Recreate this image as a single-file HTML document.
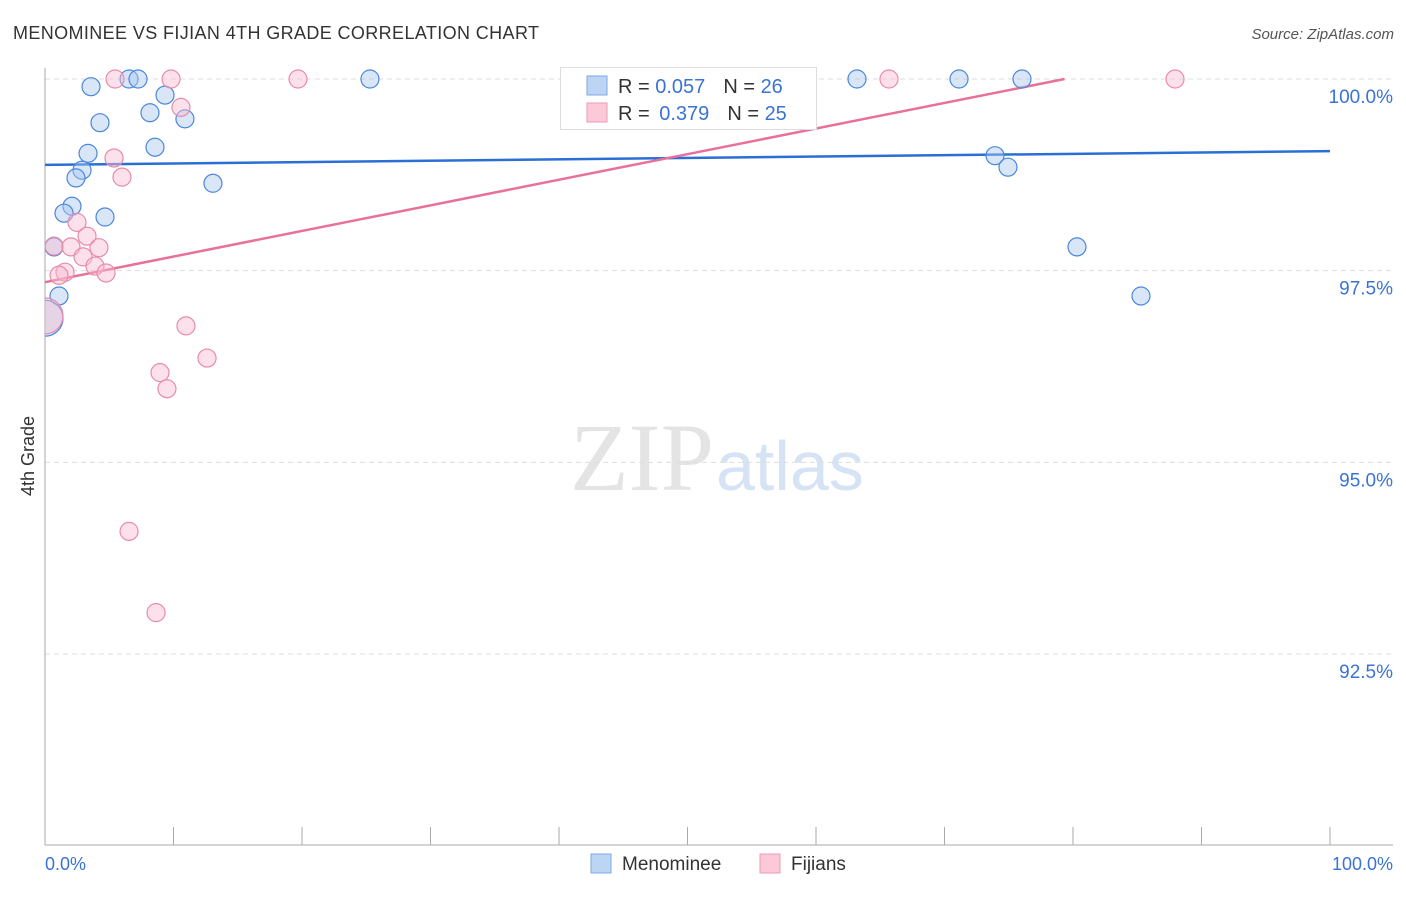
<!DOCTYPE html>
<html><head><meta charset="utf-8"><style>
body{margin:0;background:#fff;font-family:"Liberation Sans",sans-serif}
</style></head><body>
<svg id="chart" width="1406" height="892" xmlns="http://www.w3.org/2000/svg">
<defs><clipPath id="plotclip"><rect x="45" y="0" width="1361" height="845"/></clipPath></defs>
<text x="13" y="39" font-size="18" textLength="526" fill="#333">MENOMINEE VS FIJIAN 4TH GRADE CORRELATION CHART</text>
<text x="1394" y="39" font-size="15" font-style="italic" fill="#555" text-anchor="end">Source: ZipAtlas.com</text>
<text x="714" y="490" font-size="96" font-family="Liberation Serif,serif" fill="#e4e4e4" text-anchor="end">ZIP</text>
<text x="716" y="490" font-size="70" fill="#d6e3f5">atlas</text>
<g id="grid"></g><g id="axes"></g><g id="lines"></g><g id="points" clip-path="url(#plotclip)"></g>
<text transform="translate(34,456) rotate(-90)" font-size="18" fill="#333" text-anchor="middle">4th Grade</text>
<text x="45" y="870" font-size="18" fill="#3a73d4">0.0%</text>
<text x="1393" y="870" font-size="18" fill="#3a73d4" text-anchor="end">100.0%</text>
<g>
<rect x="560.5" y="67.5" width="256" height="62" fill="#fff" stroke="#ddd"/>
<rect x="587" y="76" width="20" height="19" fill="#bcd5f5" stroke="#7ea9e6"/>
<rect x="587" y="103" width="20" height="19" fill="#fbc9d8" stroke="#ee9ab5"/>
<text x="618" y="93" font-size="20" fill="#333">R = <tspan fill="#3a73d4">0.057</tspan><tspan dx="18">N = </tspan><tspan fill="#3a73d4">26</tspan></text>
<text x="618" y="120" font-size="20" fill="#333">R = <tspan dx="4" fill="#3a73d4">0.379</tspan><tspan dx="18">N = </tspan><tspan fill="#3a73d4">25</tspan></text>
</g>
<g>
<rect x="591" y="854" width="20" height="19" fill="#bcd5f5" stroke="#7ea9e6"/>
<text x="622" y="870" font-size="19" fill="#333">Menominee</text>
<rect x="760" y="854" width="20" height="19" fill="#fbc9d8" stroke="#ee9ab5"/>
<text x="791" y="870" font-size="19" fill="#333">Fijians</text>
</g>
</svg>
<script>
const yTicks=[100,97.5,95,92.5];
const yTickLabels=["100.0%","97.5%","95.0%","92.5%"];
const xTicks=[0,10,20,30,40,50,60,70,80,90,100];
const blueX=[3.58,6.54,7.24,9.34,8.17,4.28,10.89,8.56,3.35,2.88,2.41,13.07,2.10,1.48,4.67,0.70,1.09,0,25.29,63.19,71.13,76.03,73.93,74.94,80.31,85.29];
const blueY=[99.90,100,100,99.79,99.56,99.43,99.48,99.11,99.03,98.81,98.71,98.64,98.34,98.25,98.20,97.81,97.17,96.88,100,100,100,100,99.00,98.85,97.81,97.17];
const blueBig=[17];
const pinkX=[5.45,9.81,19.69,65.68,87.94,10.58,5.37,5.99,2.49,3.27,0.70,2.02,4.20,2.96,3.89,1.56,1.09,4.75,10.97,12.61,8.95,9.49,6.54,8.64,0];
const pinkY=[100,100,100,100,100,99.63,98.97,98.72,98.13,97.95,97.82,97.81,97.80,97.68,97.56,97.48,97.44,97.47,96.78,96.36,96.17,95.96,94.10,93.04,96.91];
const pinkBig=[24];
const blueTrend=[98.88,99.06];
const pinkTrend=[97.35,100.69];
const NS="http://www.w3.org/2000/svg";
const X=v=>45+v*12.85, Y=v=>79+(100-v)*76.67;
function mk(tag,attrs,parent){const e=document.createElementNS(NS,tag);for(const k in attrs)e.setAttribute(k,attrs[k]);document.getElementById(parent).appendChild(e);return e;}
yTicks.forEach((t,i)=>{
 const l=mk('line',{x1:45,x2:1393,y1:Y(t),y2:Y(t),stroke:'#ddd','stroke-dasharray':'5,4'},'grid');
 
 
 const tx=mk('text',{x:1393,y:Y(t)+24,'font-size':19,fill:'#3a73d4','text-anchor':'end'},'grid');
 tx.textContent=yTickLabels[i];
 
 
});
const ax=mk('line',{x1:45,x2:45,y1:68,y2:845,stroke:'#aaa'},'axes');


const bx=mk('line',{x1:45,x2:1393,y1:845,y2:845,stroke:'#aaa'},'axes');


xTicks.forEach(t=>{
 const l=mk('line',{x1:X(t),x2:X(t),y1:827,y2:845,stroke:'#aaa'},'axes');
 
 
});
function trend(tr,color,name){
 let x2=100,y2=tr[1];
 if(tr[1]>100){x2=(100-tr[0])/(tr[1]-tr[0])*100;y2=100;}
 const l=mk('line',{x1:X(0),y1:Y(tr[0]),x2:X(x2),y2:Y(y2),stroke:color,'stroke-width':2.5},'lines');
 
 
}
trend(blueTrend,'#2a6fd6','menominee-trendline');
trend(pinkTrend,'#e8709a','fijians-trendline');
function pts(xs,ys,big,fill,stroke,name){
 xs.forEach((x,i)=>{
  const c=mk('circle',{cx:X(x),cy:Y(ys[i]),r:big.includes(i)?18:9,fill:fill,'fill-opacity':0.45,stroke:stroke,'stroke-width':1.2},'points');
  
  
 });
}
pts(blueX,blueY,blueBig,'#a9c8f0','#4a87dc','menominee-point');
pts(pinkX,pinkY,pinkBig,'#f8bcd0','#ea8aaa','fijians-point');
</script>
</body></html>
